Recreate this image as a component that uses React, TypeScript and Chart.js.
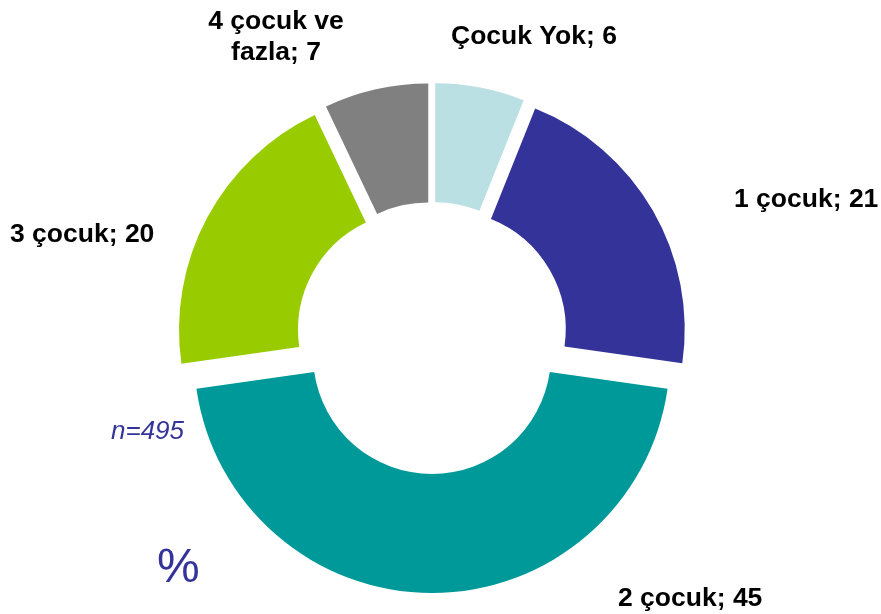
import React, { useEffect, useRef } from "react";
import { Chart, registerables } from "chart.js";

Chart.register(...registerables);

const categories = ["Çocuk Yok", "1 çocuk", "2 çocuk", "3 çocuk", "4 çocuk ve fazla"];
const values = [6, 21, 45, 20, 7];
const colors = ["#BBE0E3", "#333399", "#009999", "#99CC00", "#808080"];
const sampleNote = "n=495";
const unitNote = "%";

// label text lines and anchor positions (left x, baseline y)
const labelLines: string[][] = [
  ["Çocuk Yok; 6"],
  ["1 çocuk; 21"],
  ["2 çocuk; 45"],
  ["3 çocuk; 20"],
  ["4 çocuk ve", "fazla; 7"],
];
const labelPos: { x: number; y: number; align: CanvasTextAlign }[] = [
  { x: 451, y: 44, align: "left" },
  { x: 734, y: 207, align: "left" },
  { x: 618, y: 606, align: "left" },
  { x: 10, y: 242, align: "left" },
  { x: 276, y: 29, align: "center" },
];

const EXPLODE = 17;

const explodePlugin = {
  id: "explode",
  beforeDatasetDraw(chart: any, args: any) {
    const ctx = chart.ctx;
    args.meta.data.forEach((arc: any) => {
      const { startAngle, endAngle } = arc.getProps(["startAngle", "endAngle"], true);
      const mid = (startAngle + endAngle) / 2;
      ctx.save();
      ctx.translate(Math.cos(mid) * EXPLODE, Math.sin(mid) * EXPLODE);
      arc.draw(ctx, chart.chartArea);
      ctx.restore();
    });
    return false;
  },
};

const textPlugin = {
  id: "texts",
  afterDraw(chart: any) {
    const ctx = chart.ctx;
    ctx.save();
    ctx.fillStyle = "#000000";
    ctx.textBaseline = "alphabetic";
    ctx.font = 'bold 26.5px "Liberation Sans", Arial, sans-serif';
    labelLines.forEach((lines, i) => {
      const p = labelPos[i];
      ctx.textAlign = p.align;
      lines.forEach((line, j) => {
        ctx.fillText(line, p.x, p.y + j * 31);
      });
    });
    ctx.fillStyle = "#333399";
    ctx.textAlign = "left";
    ctx.font = 'italic 26px "Liberation Sans", Arial, sans-serif';
    ctx.fillText(sampleNote, 111, 439);
    ctx.font = '48px "Liberation Sans", Arial, sans-serif';
    ctx.fillText(unitNote, 157, 582);
    ctx.restore();
  },
};

export default function App() {
  const ref = useRef<HTMLCanvasElement | null>(null);
  useEffect(() => {
    if (!ref.current) return;
    const chart = new Chart(ref.current, {
      type: "doughnut",
      data: {
        labels: categories,
        datasets: [
          {
            data: values,
            backgroundColor: colors,
            borderWidth: 0,
          },
        ],
      },
      options: {
        responsive: false,
        animation: false,
        cutout: "50%",
        layout: { padding: { left: 194, right: 211, top: 100, bottom: 38 } },
        plugins: {
          legend: { display: false },
          tooltip: { enabled: false },
          title: { display: false },
        },
      },
      plugins: [explodePlugin, textPlugin],
    });
    return () => chart.destroy();
  }, []);
  return (
    <div style={{ position: "absolute", left: 0, top: 0, width: 881, height: 614, background: "#fff" }}>
      <canvas ref={ref} width={881} height={614} style={{ display: "block" }} />
    </div>
  );
}
